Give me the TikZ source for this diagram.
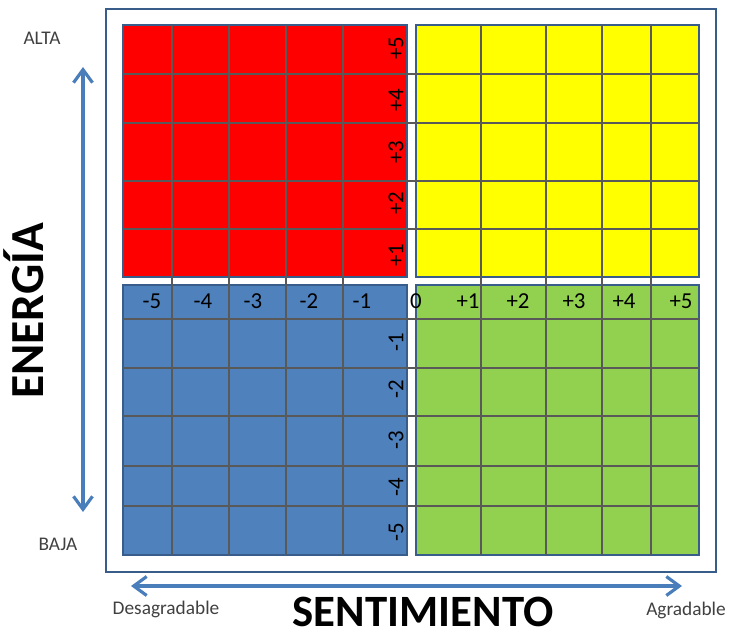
\documentclass[tikz,border=0pt]{standalone}
\usepackage{fontspec}
\setmainfont{Carlito}
\usepackage{tikz}
\usetikzlibrary{arrows.meta}
\definecolor{quadRed}{HTML}{FF0000}
\definecolor{quadYellow}{HTML}{FFFF00}
\definecolor{quadBlue}{HTML}{4F81BD}
\definecolor{quadGreen}{HTML}{92D050}
\definecolor{quadEdge}{HTML}{385D8A}
\definecolor{axisBlue}{HTML}{4A7EBB}
\tikzset{
  quadrant/.style={draw=quadEdge, line width=1.1pt},
  gridline/.style={draw=black!65, line width=0.75pt},
  frame/.style={draw=quadEdge, line width=1.3pt},
  axisline/.style={{Straight Barb[length=2.6mm, width=3.8mm]}-{Straight Barb[length=2.6mm, width=3.8mm]}, draw=axisBlue, line width=1.8pt},
  tick/.style={inner sep=0pt, text height=1.3ex, text depth=0pt, font=\fontsize{13}{15}\selectfont},
  vtick/.style={tick, rotate=90},
  pole/.style={inner sep=0pt, text=black!75, font=\fontsize{11}{13}\selectfont},
  axisname/.style={inner sep=0pt, text height=1.45ex, text depth=0pt, font=\fontsize{25.5}{28}\selectfont\bfseries}
}
\begin{document}
\begin{tikzpicture}[x=0.02cm, y=-0.02cm]
  \useasboundingbox (0,0) rectangle (730,639);
  \draw[frame] (106,9) rectangle (716,572);

  \draw[quadrant, fill=quadRed] (123,25) rectangle (407,277);
  \draw[quadrant, fill=quadYellow] (416,25) rectangle (699,277);
  \draw[quadrant, fill=quadBlue] (123,285) rectangle (407,555);
  \draw[quadrant, fill=quadGreen] (416,285) rectangle (699,555);

  \draw[gridline] (123,74) -- (699,74) (123,123) -- (699,123) (123,181) -- (699,181) (123,229) -- (699,229);
  \draw[gridline] (123,319) -- (699,319) (123,368) -- (699,368) (123,416) -- (699,416) (123,466) -- (699,466) (123,506) -- (699,506);
  \draw[gridline] (172,25) -- (172,555) (229,25) -- (229,555) (286,25) -- (286,555) (343,25) -- (343,555);
  \draw[gridline] (481,25) -- (481,555) (546,25) -- (546,555) (602,25) -- (602,555) (651,25) -- (651,555);

  \node[vtick] (upFive) at (398,48) {+5};
  \node[vtick] (upFour) at (398,100) {+4};
  \node[vtick] (upThree) at (398,152) {+3};
  \node[vtick] (upTwo) at (398,203) {+2};
  \node[vtick] (upOne) at (398,255) {+1};
  \node[vtick] (downOne) at (398,342) {-1};
  \node[vtick] (downTwo) at (398,389) {-2};
  \node[vtick] (downThree) at (398,440) {-3};
  \node[vtick] (downFour) at (398,487) {-4};
  \node[vtick] (downFive) at (398,532) {-5};

  \node[tick] (leftFive) at (152,303) {-5};
  \node[tick] (leftFour) at (203,303) {-4};
  \node[tick] (leftThree) at (253,303) {-3};
  \node[tick] (leftTwo) at (309,303) {-2};
  \node[tick] (leftOne) at (362,303) {-1};
  \node[tick] (zero) at (416,303) {0};
  \node[tick] (rightOne) at (468,303) {+1};
  \node[tick] (rightTwo) at (518,303) {+2};
  \node[tick] (rightThree) at (574,303) {+3};
  \node[tick] (rightFour) at (624,303) {+4};
  \node[tick] (rightFive) at (681,303) {+5};

  \node[pole] (alta) at (42,38) {ALTA};
  \node[pole] (baja) at (58,544) {BAJA};
  \node[pole] (desagradable) at (166,609) {Desagradable};
  \node[pole] (agradable) at (686,610) {Agradable};

  \coordinate (highEnd) at (83,67);
  \coordinate (lowEnd) at (83,512);
  \coordinate (badEnd) at (131,586);
  \coordinate (goodEnd) at (682,586);
  \draw[axisline] (lowEnd) -- (highEnd);
  \draw[axisline] (badEnd) -- (goodEnd);

  \node[axisname, font=\fontsize{27}{30}\selectfont\bfseries, rotate=90] (energia) at (37,311) {ENERGÍA};
  \node[axisname] (sentimiento) at (423,620) {SENTIMIENTO};
\end{tikzpicture}
\end{document}
